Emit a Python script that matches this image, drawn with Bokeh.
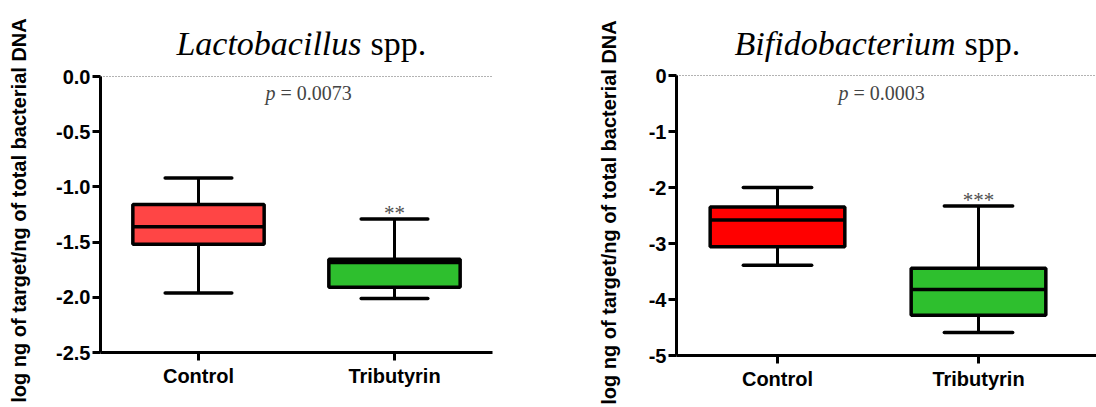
import math
from bokeh.plotting import figure
from bokeh.layouts import row
from bokeh.models import FixedTicker, Range1d, NumeralTickFormatter
from bokeh.core.properties import value
from bokeh.embed import file_html
from bokeh.resources import INLINE

groups = ["Control", "Tributyrin"]
xpos = [1, 2]

# Lactobacillus spp.
lac_whisk_hi = [-0.92, -1.29]
lac_q3 = [-1.16, -1.655]
lac_median = [-1.36, -1.685]
lac_q1 = [-1.52, -1.91]
lac_whisk_lo = [-1.96, -2.01]
lac_colors = ["#FF4545", "#2EBF2E"]
lac_ticks = [0, -0.5, -1.0, -1.5, -2.0, -2.5]

# Bifidobacterium spp.
bif_whisk_hi = [-2.00, -2.33]
bif_q3 = [-2.35, -3.44]
bif_median = [-2.58, -3.82]
bif_q1 = [-3.06, -4.28]
bif_whisk_lo = [-3.39, -4.59]
bif_colors = ["#FF0000", "#2EBF2E"]
bif_ticks = [0, -1, -2, -3, -4, -5]

p_values = ["0.0073", "0.0003"]
signif = ["", "**"], ["", "***"]

YLABEL = "log ng of target/ng of total bacterial DNA"
SANS = "Liberation Sans"
SERIF = "Liberation Serif"
W, H = 548, 407


def panel(title_it, hi, q3, med, q1, lo, colors, ticks, fmt, pval, stars, y_min, lay):
    # layout in canvas pixels -> data ranges
    pxx, pxy = lay["px_per_x"], lay["px_per_y"]
    x0 = 1 - lay["cat1_px"] / pxx
    y_top = lay["zero_px"] / pxy

    def dx(px):
        return x0 + px / pxx

    def dy(py):
        return y_top - py / pxy

    p = figure(width=W, height=H, output_backend="svg", toolbar_location=None,
               x_range=Range1d(x0, dx(W)), y_range=Range1d(dy(H), y_top),
               min_border_left=0, min_border_right=0, min_border_top=0, min_border_bottom=0)
    p.outline_line_color = None
    p.grid.visible = False
    p.background_fill_color = "white"
    p.border_fill_color = "white"

    x_lo = dx(lay["axis_px"])
    x_hi = dx(lay["x_end_px"])

    for ax in (p.xaxis[0], p.yaxis[0]):
        ax.axis_line_width = 3
        ax.axis_line_color = "black"
        ax.major_tick_line_width = 3
        ax.major_tick_line_color = "black"
        ax.major_tick_out = 8
        ax.major_tick_in = 0
        ax.minor_tick_line_color = None
        ax.major_label_text_font = SANS
        ax.major_label_text_font_style = "bold"
        ax.major_label_text_font_size = "20px"
        ax.major_label_text_color = "black"
    p.xaxis.fixed_location = y_min
    p.xaxis.bounds = (x_lo, x_hi)
    p.xaxis.ticker = FixedTicker(ticks=xpos)
    p.xaxis.major_label_overrides = {x: g for x, g in zip(xpos, groups)}
    p.xaxis.major_label_standoff = 4
    p.yaxis.fixed_location = x_lo
    p.yaxis.bounds = (y_min, 0)
    p.yaxis.ticker = FixedTicker(ticks=ticks)
    p.yaxis.formatter = fmt
    p.yaxis.major_label_standoff = 2

    # dotted reference line at 0
    p.segment(x0=[x_lo], x1=[x_hi], y0=[0], y1=[0], line_color="#666666",
              line_dash="1 2", line_width=1)

    bw = 0.67
    cw = 0.34
    p.segment(x0=xpos, x1=xpos, y0=q3, y1=hi, line_color="black", line_width=3)
    p.segment(x0=xpos, x1=xpos, y0=q1, y1=lo, line_color="black", line_width=3)
    p.segment(x0=[x - cw / 2 for x in xpos], x1=[x + cw / 2 for x in xpos], y0=hi, y1=hi,
              line_color="black", line_width=3.5, line_cap="round")
    p.segment(x0=[x - cw / 2 for x in xpos], x1=[x + cw / 2 for x in xpos], y0=lo, y1=lo,
              line_color="black", line_width=3.5, line_cap="round")
    p.vbar(x=xpos, top=q3, bottom=q1, width=bw, fill_color=colors,
           line_color="black", line_width=3.5)
    p.segment(x0=[x - bw / 2 for x in xpos], x1=[x + bw / 2 for x in xpos], y0=med, y1=med,
              line_color="black", line_width=3.5)

    # significance stars
    p.text(x=xpos, y=hi, text=stars, text_align="center", text_baseline="alphabetic",
           y_offset=-6, text_font=value(SERIF), text_font_size="21px", text_color="#505050")

    # p-value
    px_, py_ = lay["p_px"]
    p.text(x=[dx(px_)], y=[dy(py_)], text=["p"], text_align="right", text_baseline="middle",
           text_font=value(SERIF), text_font_style="italic", text_font_size="20px",
           text_color="#444444")
    p.text(x=[dx(px_)], y=[dy(py_)], x_offset=5, text=["= " + pval], text_align="left",
           text_baseline="middle", text_font=value(SERIF), text_font_size="20px",
           text_color="#444444")

    # title: italic genus + roman "spp."
    tx, ty = lay["title_px"]
    p.text(x=[dx(tx)], y=[dy(ty)], text=[title_it], text_align="right",
           text_baseline="alphabetic", text_font=value(SERIF), text_font_style="italic",
           text_font_size="34px", text_color="black")
    p.text(x=[dx(tx)], y=[dy(ty)], x_offset=9, text=["spp."], text_align="left",
           text_baseline="alphabetic", text_font=value(SERIF), text_font_size="34px",
           text_color="black")

    # y axis title (rotated)
    lx, ly = lay["ylabel_px"]
    p.text(x=[dx(lx)], y=[dy(ly)], text=[YLABEL], angle=math.pi / 2, text_align="center",
           text_baseline="middle", text_font=value(SANS), text_font_style="bold",
           text_font_size="20px", text_color="black")
    return p


lac_layout = dict(px_per_x=196, px_per_y=110.4, cat1_px=198, axis_px=100, x_end_px=492,
                  zero_px=76, p_px=(275, 92), title_px=(361, 43), ylabel_px=(18, 210))
bif_layout = dict(px_per_x=201, px_per_y=56.0, cat1_px=229, axis_px=128, x_end_px=548,
                  zero_px=75, p_px=(300, 92), title_px=(407, 43), ylabel_px=(60, 212))

p1 = panel("Lactobacillus", lac_whisk_hi, lac_q3, lac_median, lac_q1, lac_whisk_lo,
           lac_colors, lac_ticks, NumeralTickFormatter(format="0.0"), p_values[0], signif[0],
           -2.5, lac_layout)
p2 = panel("Bifidobacterium", bif_whisk_hi, bif_q3, bif_median, bif_q1, bif_whisk_lo,
           bif_colors, bif_ticks, NumeralTickFormatter(format="0"), p_values[1], signif[1],
           -5, bif_layout)

layout = row(p1, p2, spacing=0)
open("out.html", "w").write(file_html(layout, INLINE))
